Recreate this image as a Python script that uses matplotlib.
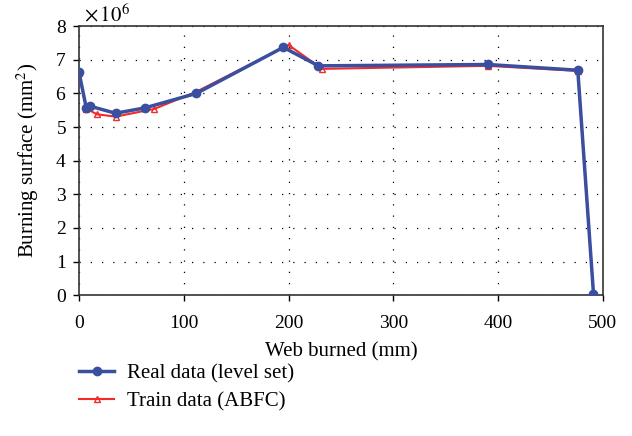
import matplotlib.pyplot as plt
from matplotlib.ticker import ScalarFormatter

# web burned (mm) and burning surface (mm^2)
real_x = [0, 7, 10.5, 35, 63, 112, 195, 228.5, 390, 476, 491]
real_y = [6.63e6, 5.56e6, 5.62e6, 5.41e6, 5.57e6, 6.0e6, 7.37e6, 6.82e6, 6.86e6, 6.69e6, 0.04e6]

train_x = [0, 7, 17, 35, 72, 112, 200, 232, 390, 476, 491]
train_y = [6.60e6, 5.55e6, 5.38e6, 5.31e6, 5.54e6, 6.05e6, 7.44e6, 6.73e6, 6.82e6, 6.67e6, 0.02e6]

plt.rcParams['font.family'] = ['Liberation Serif', 'DejaVu Serif']
plt.rcParams['mathtext.fontset'] = 'stix'

fig = plt.figure(figsize=(6.32, 4.36), dpi=100)
ax = fig.add_axes([0.125, 0.323, 0.829, 0.617])

ax.plot(real_x, real_y, color='#3a4fa0', lw=2.5, marker='o', ms=6,
        mfc='#3a4fa0', mec='#3a4fa0', label='Real data (level set)', zorder=3)
ax.plot(train_x, train_y, color='#f22a2a', lw=1.5, marker='^', ms=5,
        mfc='none', mec='#f22a2a', label='Train data (ABFC)', zorder=2)

ax.set_xlim(0, 500)
ax.set_ylim(0, 8e6)
ax.set_xticks([0, 100, 200, 300, 400, 500])
ax.set_yticks([i * 1e6 for i in range(9)])
fmt = ScalarFormatter(useMathText=True)
fmt.set_powerlimits((0, 0))
ax.yaxis.set_major_formatter(fmt)
ax.yaxis.get_offset_text().set_visible(False)
ax.text(0.01, 1.0, r'$\times\,10^6$', transform=ax.transAxes, fontsize=15,
        ha='left', va='bottom')

ax.grid(True, linestyle=(0, (1, 8)), color='black', lw=0.9)
ax.tick_params(labelsize=14, direction='out', length=4, width=1)
ax.tick_params(axis='x', pad=10)
ax.tick_params(axis='y', pad=5)
for s in ax.spines.values():
    s.set_linewidth(1.2)
    s.set_color('#333333')

ax.set_xlabel('Web burned (mm)', fontsize=15, labelpad=8)
ax.set_ylabel('Burning surface (mm$^2$)', fontsize=15, labelpad=10)

ax.legend(loc='upper left', bbox_to_anchor=(0.0, -0.255), frameon=False,
          fontsize=15, handlelength=1.7, handletextpad=0.6,
          labelspacing=0.4, borderaxespad=0, borderpad=0)

fig.savefig('out.png', dpi=100)
